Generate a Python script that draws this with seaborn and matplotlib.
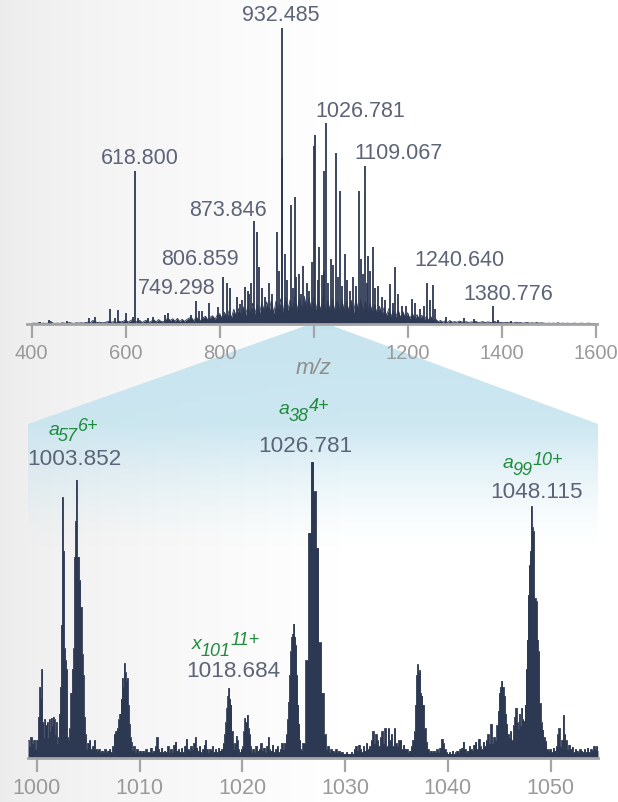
import numpy as np
import matplotlib
matplotlib.use("Agg")
import matplotlib.pyplot as plt
from matplotlib.path import Path
from matplotlib.patches import PathPatch
import seaborn as sns

# ---------------- data ----------------
# full scan: low "grass" profile, sampled every 5 m/z from 400 to 1600 (relative %)
grass_start = 400
grass_step = 5
grass_int = [
    0.2, 0.3, 0.2, 0.4, 0.2, 0.3, 0.2, 0.3, 0.9, 0.3, 0.2, 0.3, 0.2, 0.4, 0.3, 0.2, 0.5, 0.3, 0.2, 0.4,
    0.3, 0.4, 0.3, 0.5, 0.6, 0.4, 1.2, 0.8, 0.5, 0.6, 0.4, 0.5, 0.7, 1.0, 0.6, 0.8, 0.5, 1.0, 0.7, 0.9,
    1.4, 0.6, 1.1, 1.5, 0.6, 0.9, 1.2, 0.5, 1.0, 1.3, 0.6, 1.0, 1.4, 0.7, 1.5, 0.9, 0.7, 1.5, 1.9, 1.2,
    1.8, 0.9, 1.9, 0.8, 1.6, 0.9, 1.5, 2.0, 2.2, 1.0, 2.4, 1.4, 1.2, 2.2, 2.6, 1.3, 2.3, 2.8, 1.6, 3.0,
    3.5, 1.8, 4.0, 2.2, 4.5, 2.0, 5.0, 2.6, 5.2, 2.8, 5.8, 3.0, 6.0, 3.2, 7.0, 3.4, 6.5, 3.8, 7.2, 4.0,
    7.5, 4.0, 8.0, 3.6, 7.8, 4.4, 8.5, 4.0, 9.0, 4.6, 8.2, 4.2, 9.2, 4.8, 8.6, 4.4, 9.4, 5.0, 8.8, 4.6,
    9.0, 4.8, 8.4, 4.4, 9.2, 4.6, 8.0, 4.2, 8.6, 4.0, 7.8, 4.4, 8.4, 4.0, 7.6, 4.2, 8.0, 3.8, 8.4, 4.2,
    8.2, 4.0, 7.6, 3.8, 7.0, 3.6, 6.6, 3.2, 6.0, 3.0, 5.6, 2.8, 5.2, 2.6, 4.6, 2.4, 4.8, 2.0, 4.2, 2.0,
    3.8, 1.8, 3.6, 1.6, 3.2, 1.5, 3.0, 1.4, 2.6, 1.2, 2.4, 1.0, 1.6, 0.8, 1.2, 0.6, 1.1, 0.5, 1.2, 0.6,
    0.8, 0.6, 1.0, 0.7, 0.6, 0.8, 0.5, 0.7, 0.6, 0.9, 0.5, 0.6, 0.8, 0.5, 0.7, 0.6, 0.4, 0.9, 0.5, 0.6,
    0.5, 0.4, 0.6, 0.4, 0.5, 0.3, 0.6, 0.4, 0.5, 0.3, 0.4, 0.5, 0.3, 0.4, 0.3, 0.5, 0.3, 0.4, 0.3, 0.2,
    0.3, 0.2, 0.3, 0.2, 0.4, 0.2, 0.3, 0.2, 0.3, 0.2, 0.2, 0.3, 0.2, 0.2, 0.3, 0.2, 0.2, 0.3, 0.2, 0.2,
    0.2,
]

# full scan: centroid peaks
scan_mz = [
    417.7, 437.4, 474.5, 522.6, 534.7, 566.6, 577.0, 584.0, 600.0, 616.0,
    618.800, 626.8, 646.8, 659.0, 683.6, 690.6, 738.0, 749.298, 756.0, 761.7,
    776.6, 796.0, 806.859, 815.0, 823.0, 836.0, 843.0, 848.0, 854.0, 859.5,
    862.0, 866.0, 873.846, 880.0, 883.0, 891.0, 897.0, 905.0, 912.0, 921.0,
    926.0, 932.485, 933.5, 939.0, 944.0, 951.0, 957.0, 961.0, 963.0, 968.0,
    973.0, 978.0, 985.0, 990.0, 997.5, 1000.5, 1002.8, 1009.0, 1012.0, 1017.0,
    1021.0, 1023.0, 1026.781, 1030.0, 1036.0, 1041.0, 1047.5, 1052.0, 1056.6, 1060.0,
    1066.6, 1071.0, 1078.0, 1084.0, 1090.0, 1095.7, 1100.0, 1104.0, 1109.067, 1113.0,
    1116.0, 1120.0, 1125.5, 1131.0, 1138.0, 1145.0, 1152.0, 1162.0, 1168.0, 1174.0,
    1180.0, 1188.0, 1196.0, 1208.5, 1215.0, 1226.0, 1234.0, 1240.640, 1248.0, 1253.0,
    1258.0, 1281.0, 1320.0, 1342.0, 1380.776, 1392.0, 1420.0,
]
scan_int = [
    0.7, 1.3, 0.9, 2.0, 2.2, 5.0, 1.9, 4.8, 3.6, 2.2,
    51.8, 1.9, 1.9, 2.5, 3.0, 3.6, 3.1, 7.8, 4.5, 4.5,
    7.0, 5.7, 15.8, 13.7, 12.0, 9.0, 6.8, 8.0, 12.4, 11.0,
    10.0, 13.7, 34.8, 31.0, 19.2, 12.0, 9.0, 14.0, 10.0, 31.0,
    18.0, 100.0, 56.0, 23.6, 15.0, 40.3, 12.0, 43.0, 16.0, 17.0,
    10.0, 19.5, 14.0, 11.0, 21.0, 60.0, 64.0, 15.0, 26.0, 16.5,
    51.8, 18.0, 67.9, 14.0, 22.0, 20.0, 57.8, 16.0, 45.0, 13.0,
    23.6, 15.0, 11.0, 15.8, 13.0, 44.8, 22.0, 17.0, 53.5, 14.0,
    23.1, 18.0, 26.0, 12.0, 12.9, 9.0, 8.0, 13.5, 7.0, 19.2,
    10.0, 6.2, 6.0, 8.4, 7.0, 5.0, 6.0, 13.9, 8.0, 13.3,
    5.0, 2.3, 2.0, 1.7, 6.2, 1.5, 1.0,
]
scan_labels = ["932.485", "1026.781", "618.800", "1109.067", "873.846",
               "806.859", "1240.640", "749.298", "1380.776"]

# zoomed region 999-1055: profile (m/z, relative %)
zoom_mz = [
    999.15, 999.3, 999.45, 999.6, 999.75, 999.9, 1000.05, 1000.2, 1000.3, 1000.4, 1000.5, 1000.6, 1000.7, 1000.8, 1000.9,
    1001.0, 1001.1, 1001.2, 1001.3, 1001.4, 1001.5, 1001.6, 1001.7, 1001.8, 1001.9, 1002.0, 1002.1, 1002.2, 1002.3,
    1002.4, 1002.5, 1002.6, 1002.7, 1002.8, 1002.9, 1003.0, 1003.1, 1003.2, 1003.35, 1003.5, 1003.6, 1003.7, 1003.78,
    1003.852, 1003.95, 1004.05, 1004.15, 1004.32, 1004.42, 1004.5, 1004.62, 1004.75, 1004.85,
    1005.0, 1005.15, 1005.3, 1005.45, 1005.6, 1005.75, 1005.9, 1006.05, 1006.2, 1006.35, 1006.5, 1006.65, 1006.8,
    1006.95, 1007.1, 1007.25, 1007.4, 1007.55,
    1007.7, 1007.85, 1008.0, 1008.1, 1008.2, 1008.3, 1008.4, 1008.5, 1008.6, 1008.7, 1008.8, 1008.9, 1009.0, 1009.1,
    1009.2, 1009.3,
    1009.45, 1009.6, 1009.75, 1009.9, 1010.05, 1010.2, 1010.35, 1010.5, 1010.65, 1010.8, 1010.95, 1011.1, 1011.25,
    1011.4, 1011.55, 1011.7, 1011.85, 1012.0, 1012.15, 1012.3,
    1012.45, 1012.6, 1012.75, 1012.9, 1013.05, 1013.2, 1013.35, 1013.5, 1013.65, 1013.8, 1013.95, 1014.1, 1014.25,
    1014.4, 1014.55, 1014.7, 1014.85, 1015.0, 1015.15, 1015.3,
    1015.4, 1015.55, 1015.7, 1015.85, 1016.0, 1016.15, 1016.3, 1016.4, 1016.55, 1016.7, 1016.85, 1017.0, 1017.1,
    1017.25, 1017.4, 1017.55, 1017.7, 1017.85, 1018.0,
    1018.15, 1018.3, 1018.4, 1018.5, 1018.6, 1018.684, 1018.78, 1018.88, 1019.0, 1019.1, 1019.2, 1019.3, 1019.4,
    1019.5, 1019.6, 1019.75, 1019.9, 1020.05, 1020.15, 1020.25, 1020.35, 1020.47, 1020.6, 1020.7, 1020.8, 1020.9,
    1021.05, 1021.2, 1021.35, 1021.5, 1021.65, 1021.8, 1021.95, 1022.1, 1022.25, 1022.4, 1022.5, 1022.65, 1022.8,
    1022.95, 1023.1, 1023.25, 1023.4, 1023.55, 1023.7, 1023.85, 1024.0, 1024.15,
    1024.3, 1024.4, 1024.5, 1024.6, 1024.7, 1024.8, 1024.9, 1025.01, 1025.1, 1025.2, 1025.3, 1025.4, 1025.5, 1025.6,
    1025.7, 1025.8, 1025.9,
    1026.02, 1026.27, 1026.52, 1026.781, 1027.03, 1027.28, 1027.53, 1027.78, 1028.03, 1028.2,
    1028.35, 1028.5, 1028.65, 1028.8, 1028.95, 1029.1, 1029.25, 1029.4, 1029.55, 1029.7, 1029.85, 1030.0, 1030.15,
    1030.3, 1030.45, 1030.6, 1030.75, 1030.9, 1031.05, 1031.2,
    1031.35, 1031.5, 1031.65, 1031.8, 1031.95, 1032.1, 1032.25, 1032.4, 1032.55, 1032.7, 1032.85, 1033.0, 1033.15,
    1033.3, 1033.45, 1033.6, 1033.75, 1033.9, 1034.05, 1034.2,
    1034.35, 1034.5, 1034.65, 1034.8, 1034.95, 1035.1, 1035.25, 1035.4, 1035.55, 1035.7, 1035.85, 1036.0, 1036.15,
    1036.3, 1036.45, 1036.6,
    1036.75, 1036.85, 1036.95, 1037.04, 1037.15, 1037.26, 1037.36, 1037.45, 1037.6, 1037.75, 1037.9, 1038.05, 1038.2,
    1038.35, 1038.5, 1038.65, 1038.8, 1038.95, 1039.1, 1039.25, 1039.4, 1039.55, 1039.7, 1039.85, 1040.0, 1040.15,
    1040.3, 1040.45, 1040.6, 1040.75, 1040.9, 1041.05, 1041.2,
    1041.35, 1041.5, 1041.65, 1041.8, 1041.95, 1042.1, 1042.25, 1042.4, 1042.55, 1042.7, 1042.85, 1043.0, 1043.15,
    1043.3, 1043.45, 1043.6, 1043.75, 1043.9, 1044.05, 1044.2,
    1044.35, 1044.5, 1044.65, 1044.8, 1044.9, 1045.0, 1045.1, 1045.25, 1045.35, 1045.5, 1045.6, 1045.7, 1045.85,
    1046.0, 1046.1, 1046.25, 1046.4, 1046.52, 1046.62, 1046.75, 1046.85, 1046.95, 1047.08, 1047.2, 1047.3, 1047.4,
    1047.5,
    1047.6, 1047.7, 1047.8, 1047.9, 1048.0, 1048.115, 1048.2, 1048.3, 1048.45, 1048.6, 1048.7, 1048.8, 1048.95,
    1049.1, 1049.2, 1049.35, 1049.5, 1049.65,
    1049.8, 1049.95, 1050.1, 1050.25, 1050.4, 1050.55, 1050.7, 1050.8, 1050.95, 1051.1, 1051.23, 1051.35, 1051.5,
    1051.65, 1051.8, 1051.95, 1052.1, 1052.25, 1052.4, 1052.55,
    1052.7, 1052.85, 1053.0, 1053.15, 1053.3, 1053.45, 1053.6, 1053.75, 1053.9, 1054.05, 1054.2, 1054.35, 1054.5,
    1054.6,
]
zoom_int = [
    6, 4, 7, 5, 6, 3, 6, 14, 24, 20, 30, 12, 7, 13, 11,
    12, 7, 13, 9, 13.5, 11, 14, 13, 8, 12, 5, 7, 15, 24,
    45, 88, 70, 37, 33, 30, 7, 6, 10, 22, 30, 37, 68, 80,
    94, 68, 68, 60, 51, 35, 28, 14, 8, 3,
    5, 6, 3, 4, 6, 3, 2.5, 3, 2, 2.5, 2, 3, 2,
    2.5, 3, 2, 4, 8,
    9, 10, 13, 15, 20, 27, 24, 32, 29, 26, 27, 18, 11.5, 7,
    5.5, 2.5,
    4, 2, 3, 2, 2.5, 2, 2.5, 2, 3, 2, 2, 3.5, 2,
    2.5, 4, 7, 3, 2, 3.5, 2,
    2.5, 2, 4, 2, 3, 2, 4.5, 5.5, 2.5, 3, 2, 3.5, 2,
    4, 6.5, 3, 2.5, 4, 3, 5,
    7, 3.5, 2.5, 4, 2, 3, 4.5, 6, 3, 2, 3, 2.5, 4,
    2, 3, 2, 3.5, 2.5, 3,
    5, 8, 12, 17, 21, 23.6, 20, 18, 9, 5, 3, 5, 7.5,
    6, 3, 2, 3, 4, 9, 13.5, 12, 14.6, 10, 8, 4, 2,
    3, 2, 4, 2.5, 3, 5, 2.5, 3.5, 2, 4, 7, 3, 2.5,
    4.5, 2, 3, 4, 2, 3, 5, 3, 5,
    8, 13, 19, 28, 36, 41, 42, 45.4, 41, 38, 28, 18, 11.5, 6,
    3, 2.5, 5,
    5, 33, 76, 100, 90, 71, 39, 22, 8, 3,
    4, 2, 3, 2.5, 2, 3, 2, 2.5, 2, 2, 1.5, 1.5, 2,
    1.5, 1.5, 2, 1.5, 3, 4, 2.5,
    4.5, 3, 2, 4, 2.5, 5, 3, 4, 6, 9, 5, 8, 6,
    4, 7, 9, 5, 10, 4, 10,
    6, 8, 4, 10, 5, 4, 6, 6, 3, 4.5, 3, 3, 2,
    2.5, 4, 6,
    9, 18, 28, 31.6, 29, 29.7, 22, 21, 18, 10, 5.5, 3, 2,
    2.5, 2, 2.5, 2, 3, 2, 3.5, 6.5, 5, 3, 2, 1.5, 2,
    1.5, 2.5, 1.5, 2, 2.5, 2, 3,
    3.5, 5.5, 3, 2, 2.5, 4, 3, 2.5, 4.5, 5.5, 3, 6.5, 4,
    3, 5.5, 4, 6, 8, 5, 11.5,
    5, 7, 6, 11, 16, 22, 24, 26, 24, 21, 15, 11.5, 8,
    7, 9, 6, 11, 14, 17, 12, 10, 15, 11, 17, 13, 12.5,
    18,
    30, 40, 55, 65, 70, 85, 78, 76.6, 54, 53, 40, 36, 18.5,
    12, 9.6, 7, 5.7, 3,
    2.5, 3, 2, 3.5, 2.5, 4, 8, 10, 4, 6, 14.6, 8, 6,
    3, 4.5, 3, 3.7, 2, 3, 2.5,
    2, 3, 2.5, 2, 3, 2, 3.5, 2, 3, 2.5, 4, 3, 4,
    2.5,
]
zoom_labels = ["1003.852", "1026.781", "1018.684", "1048.115"]
ion_letter = ["a", "a", "x", "a"]
ion_sub = ["57", "38", "101", "99"]
ion_sup = ["6+", "4+", "11+", "10+"]

scan_ticks = [400, 600, 800, 1000, 1200, 1400, 1600]
scan_ticklabels = ["400", "600", "800", "", "1200", "1400", "1600"]
zoom_ticks = [1000, 1010, 1020, 1030, 1040, 1050]

# ---------------- styling ----------------
sns.set_theme(style="white")
plt.rcParams["font.family"] = ["Liberation Sans", "DejaVu Sans"]

INK = "#2d3852"
LABEL = "#5d6478"
GREEN = "#1f8c3c"
AXIS = "#a5a5a5"
TICKTXT = "#9a9a9a"

W, H = 618, 803
fig = plt.figure(figsize=(W / 100, H / 100), dpi=100)

# background: grey vignette on the left and the blue zoom funnel
bg = fig.add_axes([0, 0, 1, 1], zorder=-5)
bg.set_xlim(0, W)
bg.set_ylim(H, 0)
bg.axis("off")
xs = np.arange(W)
shade = 0.925 + 0.075 * np.clip(xs / 340.0, 0, 1) ** 0.7
bg.imshow(np.dstack([shade, shade, shade]), extent=[0, W, H, 0], aspect="auto")

ys = np.arange(H, dtype=float)
alpha = np.zeros(H)
upper = (ys >= 320) & (ys < 425)
alpha[upper] = 1.0 - 0.12 * (ys[upper] - 320) / 105.0
lower = (ys >= 425) & (ys < 550)
alpha[lower] = 0.88 * (1 - (ys[lower] - 425) / 125.0) ** 1.5
blue = np.zeros((H, 1, 4))
blue[:, 0, 0] = 0.78
blue[:, 0, 1] = 0.895
blue[:, 0, 2] = 0.94
blue[:, 0, 3] = alpha
funnel = Path([(305, 327), (333, 327), (598, 425), (598, 552), (28, 552), (28, 425), (305, 327)],
              closed=True)
patch = PathPatch(funnel, transform=bg.transData, facecolor="none", edgecolor="none")
bg.add_patch(patch)
im = bg.imshow(blue, extent=[0, W, H, 0], aspect="auto")
im.set_clip_path(patch)

# ---------------- full scan ----------------
ax1 = fig.add_axes([27 / W, (H - 325) / H, 570 / W, 320 / H])
ax1.patch.set_alpha(0)
grass_mz = [grass_start + grass_step * i for i in range(len(grass_int))]
ax1.fill_between(grass_mz, grass_int, color=INK, lw=0)
sns.lineplot(x=grass_mz, y=grass_int, color=INK, lw=0.6, ax=ax1)
ax1.vlines(scan_mz, 0, scan_int, color=INK, lw=1.3)
ax1.set_xlim(390, 1603)
ax1.set_ylim(0, 108.1)

scan_offsets = [(-0.5, 10), (24.3, 8.9), (3.9, 9.4), (24.5, 9.1), (-19.2, 8.6),
                (-16.5, 13.8), (23.3, 16.7), (-13.8, 9.3), (11.6, 9.1)]
for lab, off in zip(scan_labels, scan_offsets):
    i = int(np.argmin(np.abs(np.array(scan_mz) - float(lab))))
    ax1.annotate(lab, (scan_mz[i], scan_int[i]), xytext=off, textcoords="offset points",
                 ha="center", va="center", fontsize=15.5, color=LABEL, annotation_clip=False)

ax1.text(1000, -0.135, "m/z", transform=ax1.get_xaxis_transform(), ha="center", va="center",
         fontsize=16, style="italic", color="#8e8e8e")

# ---------------- zoom ----------------
ax2 = fig.add_axes([28 / W, (H - 759) / H, 570 / W, 359 / H])
ax2.patch.set_alpha(0)
ax2.fill_between(zoom_mz, zoom_int, step="mid", color=INK, lw=0)
sns.lineplot(x=zoom_mz, y=zoom_int, drawstyle="steps-mid", color=INK, lw=0.6, ax=ax2)
ax2.set_xlim(999.15, 1054.6)
ax2.set_ylim(0, 121.2)

label_offsets = [(-1.7, 15.1), (-4.9, 12.0), (3.0, 13.0), (3.5, 10.9)]
ion_offsets = [(-20.2, 32.8), (-23.8, 34.8), (-26.7, 28.6), (-20.8, 27.9)]
for k, lab in enumerate(zoom_labels):
    i = int(np.argmin(np.abs(np.array(zoom_mz) - float(lab))))
    peak = (zoom_mz[i], zoom_int[i])
    ax2.annotate(lab, peak, xytext=label_offsets[k], textcoords="offset points",
                 ha="center", va="center", fontsize=16.2, color=LABEL, annotation_clip=False)
    t0 = ax2.annotate(ion_letter[k], peak, xytext=ion_offsets[k], textcoords="offset points",
                      ha="left", va="baseline", fontsize=14, style="italic", color=GREEN,
                      annotation_clip=False)
    t1 = ax2.annotate(ion_sub[k], xy=(1, 0), xycoords=t0, xytext=(-0.8, -4.6),
                      textcoords="offset points", ha="left", va="bottom", fontsize=13,
                      style="italic", color=GREEN)
    ax2.annotate(ion_sup[k], xy=(1, 0), xycoords=t1, xytext=(0.0, 7.4),
                 textcoords="offset points", ha="left", va="bottom", fontsize=13,
                 style="italic", color=GREEN)

# ---------------- axes cosmetics ----------------
for ax, ticks, size in ((ax1, scan_ticks, 14.5), (ax2, zoom_ticks, 15.5)):
    sns.despine(ax=ax, left=True)
    ax.spines["bottom"].set_color(AXIS)
    ax.spines["bottom"].set_linewidth(2.0)
    ax.set_yticks([])
    ax.set_xticks(ticks)
    ax.tick_params(axis="x", direction="out", length=10, width=1.6, color=AXIS,
                   labelcolor=TICKTXT, labelsize=size, pad=4, bottom=True)
    ax.set_xlabel("")
    ax.set_ylabel("")
ax1.set_xticklabels(scan_ticklabels)

fig.savefig("out.png", dpi=100)
